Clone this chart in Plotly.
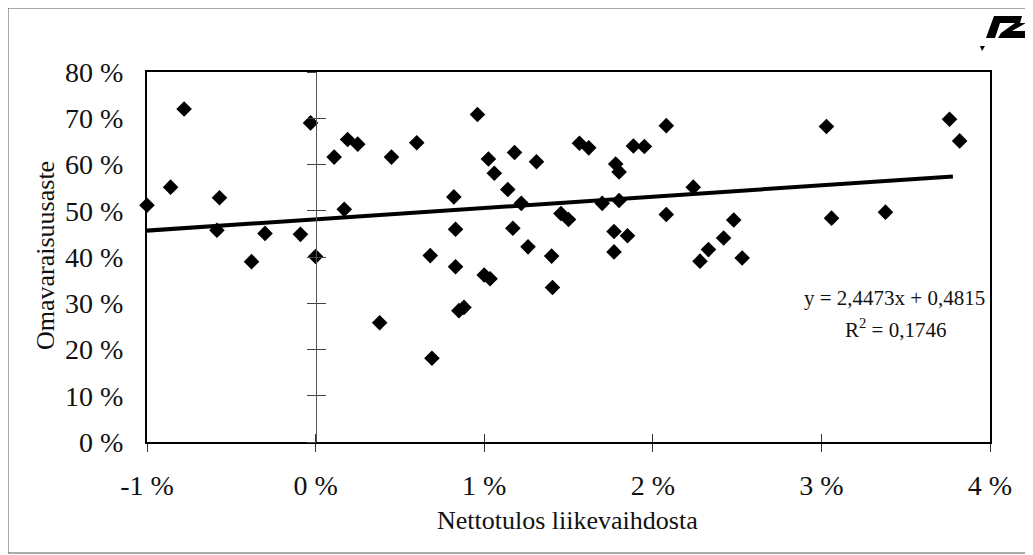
import plotly.graph_objects as go

# Nettotulos liikevaihdosta (%), Omavaraisuusaste (%)
net_profit_pct = [
    -1.00, -0.86, -0.78, -0.57, -0.585, -0.38, -0.30, -0.09, -0.03, 0.00,
    0.11, 0.17, 0.19, 0.25, 0.38, 0.45, 0.60, 0.68, 0.69, 0.82,
    0.83, 0.83, 0.85, 0.88, 0.96, 1.00, 1.035, 1.025, 1.06, 1.14,
    1.17, 1.18, 1.22, 1.26, 1.31, 1.40, 1.405, 1.455, 1.50, 1.565,
    1.62, 1.70, 1.78, 1.80, 1.80, 1.77, 1.85, 1.77, 1.885, 1.95,
    2.08, 2.24, 2.08, 2.28, 2.33, 2.42, 2.48, 2.53, 3.03, 3.06,
    3.38, 3.76, 3.82,
]
equity_ratio_pct = [
    51.2, 55.1, 72.0, 52.8, 45.8, 39.0, 45.1, 44.9, 69.0, 40.1,
    61.6, 50.3, 65.4, 64.4, 25.8, 61.6, 64.7, 40.3, 18.1, 53.0,
    46.0, 37.9, 28.4, 29.1, 70.8, 36.1, 35.3, 61.2, 58.1, 54.6,
    46.2, 62.6, 51.6, 42.2, 60.6, 40.2, 33.4, 49.4, 48.1, 64.6,
    63.6, 51.6, 60.1, 58.4, 52.2, 45.5, 44.6, 41.1, 64.0, 63.9,
    68.4, 55.1, 49.2, 39.1, 41.6, 44.1, 48.0, 39.8, 68.2, 48.4,
    49.7, 69.8, 65.1,
]

# Trendline from the chart's equation: y = 2,4473x + 0,4815
trend_slope = 2.4473
trend_intercept = 0.4815
trend_x_ends = [-1.04, 3.78]

x_tickvals = [-1, 0, 1, 2, 3, 4]
x_ticktext = ["-1 %", "0 %", "1 %", "2 %", "3 %", "4 %"]
y_tickvals = [0, 10, 20, 30, 40, 50, 60, 70, 80]
y_ticktext = ["0 %", "10 %", "20 %", "30 %", "40 %", "50 %", "60 %", "70 %", "80 %"]

x_title = "Nettotulos liikevaihdosta"
y_title = "Omavaraisuusaste"
eq_line1 = "y = 2,4473x + 0,4815"
eq_line2 = "R<sup>2</sup> = 0,1746"

# page offset (browser body margin)
OFF = 8
W, H = 1033 - OFF, 555 - OFF
# plot area in screen pixels: left 147, right 990, top 72, bottom 442
SL, SR, ST, SB = 147, 990, 72, 442
L, T = SL - OFF, ST - OFF
R = W - (SR - OFF)
B = H - (SB - OFF)
PW, PH = SR - SL, SB - ST


def px(xs):
    return (xs - SL) / PW


def py(ys):
    return (SB - ys) / PH


FONT = "Liberation Serif, Times New Roman, serif"
INK = "#111111"

trend_y = [trend_slope * x + trend_intercept * 100 for x in trend_x_ends]

fig = go.Figure()
fig.add_trace(go.Scatter(
    x=net_profit_pct, y=equity_ratio_pct, mode="markers",
    marker=dict(symbol="diamond", size=12, color="#000000", line=dict(width=0)),
    showlegend=False, cliponaxis=False,
))
fig.add_trace(go.Scatter(
    x=trend_x_ends, y=trend_y, mode="lines",
    line=dict(color="#000000", width=4), showlegend=False,
))
# helper traces to activate overlay axes (tick marks crossing the axes)
fig.add_trace(go.Scatter(x=[], y=[], xaxis="x2", yaxis="y", showlegend=False))
fig.add_trace(go.Scatter(x=[], y=[], xaxis="x", yaxis="y2", showlegend=False))
fig.add_trace(go.Scatter(x=[], y=[], xaxis="x", yaxis="y3", showlegend=False))

yaxis_pos = (0 - x_tickvals[0]) / (x_tickvals[-1] - x_tickvals[0])

fig.update_layout(
    width=W, height=H,
    margin=dict(l=L, r=R, t=T, b=B, autoexpand=False),
    paper_bgcolor="white", plot_bgcolor="white",
    font=dict(family=FONT, color=INK),
    xaxis=dict(
        range=[x_tickvals[0], x_tickvals[-1]], tickvals=x_tickvals, ticktext=x_ticktext,
        showgrid=False, zeroline=False, showline=True, mirror=True,
        linecolor="#000000", linewidth=2,
        ticks="outside", ticklen=8, tickcolor="#333333", tickwidth=1,
        tickfont=dict(size=28, family=FONT, color=INK), ticklabelstandoff=9,
    ),
    xaxis2=dict(
        overlaying="x", anchor="y", side="bottom",
        range=[x_tickvals[0], x_tickvals[-1]], tickvals=x_tickvals,
        showgrid=False, zeroline=False, showline=False, showticklabels=False,
        ticks="inside", ticklen=8, tickcolor="#333333", tickwidth=1,
    ),
    yaxis=dict(
        range=[y_tickvals[0], y_tickvals[-1]], tickvals=y_tickvals, ticktext=y_ticktext,
        showgrid=False, zeroline=False, showline=True, mirror=True,
        linecolor="#000000", linewidth=2, ticks="",
        tickfont=dict(size=28, family=FONT, color=INK), ticklabelstandoff=16,
    ),
    yaxis2=dict(
        overlaying="y", anchor="free", position=yaxis_pos, side="left",
        range=[y_tickvals[0], y_tickvals[-1]], tickvals=y_tickvals,
        showgrid=False, zeroline=False, showline=True, linecolor="#555555", linewidth=1,
        showticklabels=False, ticks="outside", ticklen=9, tickcolor="#444444", tickwidth=1,
    ),
    yaxis3=dict(
        overlaying="y", anchor="free", position=yaxis_pos, side="left",
        range=[y_tickvals[0], y_tickvals[-1]], tickvals=y_tickvals,
        showgrid=False, zeroline=False, showline=False,
        showticklabels=False, ticks="inside", ticklen=9, tickcolor="#444444", tickwidth=1,
    ),
    showlegend=False,
)

annotations = [
    dict(text=x_title, x=px(567), y=py(520), xref="paper", yref="paper",
         showarrow=False, font=dict(size=26, family=FONT, color=INK),
         xanchor="center", yanchor="middle"),
    dict(text=y_title, x=px(45), y=py(256), xref="paper", yref="paper",
         showarrow=False, textangle=-90, font=dict(size=26, family=FONT, color=INK),
         xanchor="center", yanchor="middle"),
    dict(text=eq_line1, x=px(894), y=py(298), xref="paper", yref="paper",
         showarrow=False, font=dict(size=21, family=FONT, color=INK),
         xanchor="center", yanchor="middle"),
    dict(text=eq_line2, x=px(895), y=py(328), xref="paper", yref="paper",
         showarrow=False, font=dict(size=21, family=FONT, color=INK),
         xanchor="center", yanchor="middle"),
]
fig.update_layout(annotations=annotations)


def poly(points):
    d = "M " + " L ".join(f"{px(a):.5f},{py(b):.5f}" for a, b in points) + " Z"
    return d


shapes = [
    # outer chart border
    dict(type="rect", xref="paper", yref="paper",
         x0=px(8), x1=px(1040), y0=py(553), y1=py(8),
         line=dict(color="#555555", width=1), fillcolor="rgba(0,0,0,0)", layer="below"),
    # logo
    dict(type="path", xref="paper", yref="paper",
         path=poly([(994, 16), (1022, 16), (1020, 23), (1000, 23), (995, 38), (986, 38)]),
         fillcolor="#000000", line=dict(width=0)),
    dict(type="path", xref="paper", yref="paper",
         path=poly([(1015, 23), (1026, 23), (1012, 31), (1033, 31), (1031, 38), (998, 38), (1001, 33)]),
         fillcolor="#000000", line=dict(width=0)),
    dict(type="path", xref="paper", yref="paper",
         path=poly([(980, 46), (985, 46), (982, 51)]),
         fillcolor="#000000", line=dict(width=0)),
]
fig.update_layout(shapes=shapes)

fig.write_html("out.html")
